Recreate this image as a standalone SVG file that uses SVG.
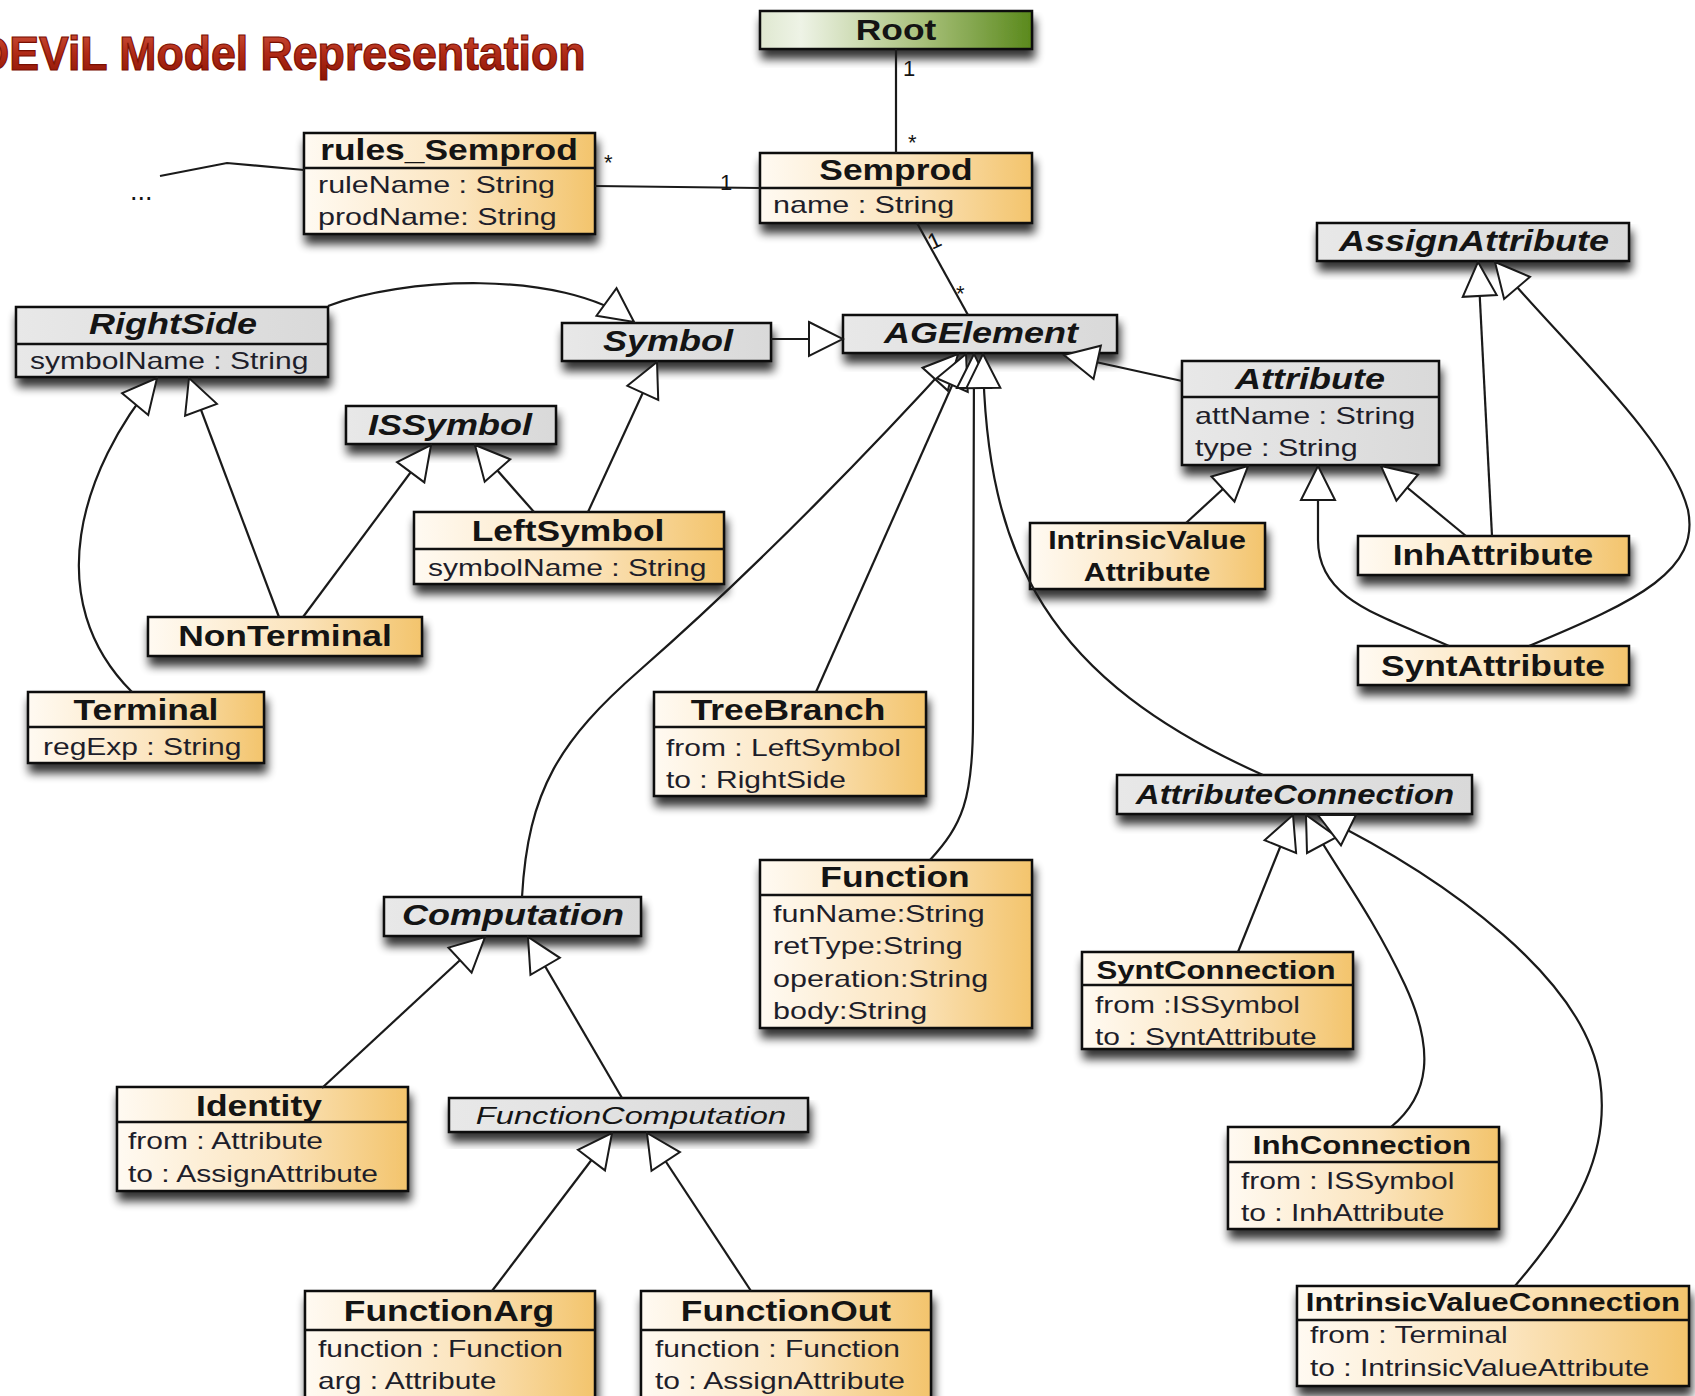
<svg xmlns="http://www.w3.org/2000/svg" width="1695" height="1396" viewBox="0 0 1695 1396">
<defs>
<style>
.box{stroke:#111;stroke-width:2.5;filter:url(#sh)}
.c{fill:url(#yel)}
.g{fill:url(#gry)}
.dv{stroke:#111;stroke-width:2.5}
text{font-family:"Liberation Sans",Arial,sans-serif;fill:#141414}
.n{font-weight:bold;font-size:30px;text-anchor:middle}
.ni{font-weight:bold;font-style:italic;font-size:30px;text-anchor:middle}
.ns{font-weight:bold;font-size:26px;text-anchor:middle}
.nis{font-weight:bold;font-style:italic;font-size:27px;text-anchor:middle}
.fc{font-style:italic;font-size:23px;text-anchor:middle}
.a{font-size:24px;fill:#1e1e2a}
.m{font-size:22px}
.t{font-weight:bold;font-size:48px;fill:url(#red);stroke:#7a0e00;stroke-width:1.2}
#connectors path,#connectors line,#connectors polyline{fill:none;stroke:#1a1a1a;stroke-width:2.2}
#connectors path{marker-end:url(#tri)}
</style>
<linearGradient id="yel" x1="0" y1="0" x2="1" y2="0">
<stop offset="0" stop-color="#fffaf2"/><stop offset="0.55" stop-color="#fbe4bd"/><stop offset="1" stop-color="#f3c46c"/>
</linearGradient>
<linearGradient id="gry" x1="0" y1="0" x2="1" y2="0">
<stop offset="0" stop-color="#e8e8e8"/><stop offset="1" stop-color="#d9d9d9"/>
</linearGradient>
<linearGradient id="grn" x1="0" y1="0" x2="1" y2="0">
<stop offset="0" stop-color="#dfe8d0"/><stop offset="0.15" stop-color="#eef3e6"/><stop offset="0.6" stop-color="#a8c07a"/><stop offset="1" stop-color="#5a891c"/>
</linearGradient>
<linearGradient id="red" x1="0" y1="0" x2="0" y2="1">
<stop offset="0" stop-color="#d0553e"/><stop offset="0.5" stop-color="#b02a16"/><stop offset="1" stop-color="#8c1406"/>
</linearGradient>
<filter id="sh" x="-10%" y="-20%" width="125%" height="170%">
<feGaussianBlur in="SourceAlpha" stdDeviation="5"/>
<feOffset dx="2" dy="9"/>
<feComponentTransfer><feFuncA type="linear" slope="0.8"/></feComponentTransfer>
<feMerge><feMergeNode/><feMergeNode in="SourceGraphic"/></feMerge>
</filter>
<marker id="tri" viewBox="-2 -2 38 38" refX="34" refY="17" markerWidth="38" markerHeight="38" markerUnits="userSpaceOnUse" orient="auto">
<path d="M0,0 L34,17 L0,34 Z" fill="#fff" stroke="#1a1a1a" stroke-width="2"/>
</marker>
</defs>
<rect width="1695" height="1396" fill="#fff"/>

<text class="t" transform="translate(-23 70) scale(0.93 1)">DEViL Model Representation</text>

<g id="Root"><rect class="box" x="760" y="11" width="272" height="38" fill="url(#grn)"/>
<text class="n" transform="translate(896 40) scale(1.18 1)">Root</text></g>

<g id="Semprod"><rect class="box c" x="760" y="153" width="272" height="70"/><line class="dv" x1="760" y1="188" x2="1032" y2="188"/>
<text class="n" transform="translate(896 180) scale(1.18 1)">Semprod</text>
<text class="a" transform="translate(773 213) scale(1.27 1)">name : String</text></g>

<g id="rules_Semprod"><rect class="box c" x="304" y="133" width="291" height="101"/><line class="dv" x1="304" y1="168" x2="595" y2="168"/>
<text class="n" transform="translate(449 160) scale(1.18 1)">rules_Semprod</text>
<text class="a" transform="translate(318 193) scale(1.27 1)">ruleName : String</text>
<text class="a" transform="translate(318 225) scale(1.27 1)">prodName: String</text></g>

<g id="AssignAttribute"><rect class="box g" x="1317" y="223" width="312" height="38"/>
<text class="ni" transform="translate(1474 251) scale(1.2 1)">AssignAttribute</text></g>

<g id="RightSide"><rect class="box g" x="16" y="307" width="312" height="70"/><line class="dv" x1="16" y1="344" x2="328" y2="344"/>
<text class="ni" transform="translate(173 334) scale(1.2 1)">RightSide</text>
<text class="a" transform="translate(30 369) scale(1.25 1)">symbolName : String</text></g>

<g id="Symbol"><rect class="box g" x="562" y="323" width="209" height="38"/>
<text class="ni" transform="translate(668 351) scale(1.2 1)">Symbol</text></g>

<g id="AGElement"><rect class="box g" x="843" y="315" width="274" height="38"/>
<text class="ni" transform="translate(981 343) scale(1.2 1)">AGElement</text></g>

<g id="Attribute"><rect class="box g" x="1182" y="361" width="257" height="104"/><line class="dv" x1="1182" y1="397" x2="1439" y2="397"/>
<text class="ni" transform="translate(1310 389) scale(1.2 1)">Attribute</text>
<text class="a" transform="translate(1195 424) scale(1.27 1)">attName : String</text>
<text class="a" transform="translate(1195 456) scale(1.27 1)">type : String</text></g>

<g id="ISSymbol"><rect class="box g" x="346" y="406" width="210" height="38"/>
<text class="ni" transform="translate(450 435) scale(1.2 1)">ISSymbol</text></g>

<g id="LeftSymbol"><rect class="box c" x="414" y="512" width="310" height="72"/><line class="dv" x1="414" y1="549" x2="724" y2="549"/>
<text class="n" transform="translate(568 541) scale(1.18 1)">LeftSymbol</text>
<text class="a" transform="translate(428 576) scale(1.25 1)">symbolName : String</text></g>

<g id="IntrinsicValueAttribute"><rect class="box c" x="1030" y="523" width="235" height="66"/>
<text class="ns" transform="translate(1147 549) scale(1.17 1)">IntrinsicValue</text>
<text class="ns" transform="translate(1147 581) scale(1.17 1)">Attribute</text></g>

<g id="InhAttribute"><rect class="box c" x="1358" y="536" width="271" height="39"/>
<text class="n" transform="translate(1493 565) scale(1.18 1)">InhAttribute</text></g>

<g id="NonTerminal"><rect class="box c" x="148" y="617" width="274" height="39"/>
<text class="n" transform="translate(285 646) scale(1.18 1)">NonTerminal</text></g>

<g id="SyntAttribute"><rect class="box c" x="1358" y="646" width="271" height="39"/>
<text class="n" transform="translate(1493 676) scale(1.18 1)">SyntAttribute</text></g>

<g id="Terminal"><rect class="box c" x="28" y="692" width="236" height="71"/><line class="dv" x1="28" y1="727" x2="264" y2="727"/>
<text class="n" transform="translate(146 720) scale(1.18 1)">Terminal</text>
<text class="a" transform="translate(43 755) scale(1.25 1)">regExp : String</text></g>

<g id="TreeBranch"><rect class="box c" x="654" y="692" width="272" height="104"/><line class="dv" x1="654" y1="727" x2="926" y2="727"/>
<text class="n" transform="translate(788 720) scale(1.18 1)">TreeBranch</text>
<text class="a" transform="translate(666 756) scale(1.25 1)">from : LeftSymbol</text>
<text class="a" transform="translate(666 788) scale(1.25 1)">to : RightSide</text></g>

<g id="AttributeConnection"><rect class="box g" x="1117" y="775" width="355" height="39"/>
<text class="nis" transform="translate(1295 804) scale(1.22 1)">AttributeConnection</text></g>

<g id="Function"><rect class="box c" x="760" y="860" width="272" height="168"/><line class="dv" x1="760" y1="895" x2="1032" y2="895"/>
<text class="n" transform="translate(895 887) scale(1.18 1)">Function</text>
<text class="a" transform="translate(773 922) scale(1.27 1)">funName:String</text>
<text class="a" transform="translate(773 954) scale(1.27 1)">retType:String</text>
<text class="a" transform="translate(773 987) scale(1.27 1)">operation:String</text>
<text class="a" transform="translate(773 1019) scale(1.27 1)">body:String</text></g>

<g id="Computation"><rect class="box g" x="384" y="897" width="257" height="39"/>
<text class="ni" transform="translate(513 925) scale(1.2 1)">Computation</text></g>

<g id="SyntConnection"><rect class="box c" x="1082" y="952" width="271" height="97"/><line class="dv" x1="1082" y1="985" x2="1353" y2="985"/>
<text class="ns" transform="translate(1216 979) scale(1.2 1)">SyntConnection</text>
<text class="a" transform="translate(1095 1013) scale(1.25 1)">from :ISSymbol</text>
<text class="a" transform="translate(1095 1045) scale(1.25 1)">to : SyntAttribute</text></g>

<g id="Identity"><rect class="box c" x="117" y="1087" width="291" height="104"/><line class="dv" x1="117" y1="1122" x2="408" y2="1122"/>
<text class="n" transform="translate(259 1116) scale(1.18 1)">Identity</text>
<text class="a" transform="translate(128 1149) scale(1.25 1)">from : Attribute</text>
<text class="a" transform="translate(128 1182) scale(1.25 1)">to : AssignAttribute</text></g>

<g id="FunctionComputation"><rect class="box g" x="449" y="1098" width="359" height="34"/>
<text class="fc" transform="translate(631 1124) scale(1.42 1)">FunctionComputation</text></g>

<g id="InhConnection"><rect class="box c" x="1228" y="1127" width="271" height="102"/><line class="dv" x1="1228" y1="1162" x2="1499" y2="1162"/>
<text class="ns" transform="translate(1362 1154) scale(1.2 1)">InhConnection</text>
<text class="a" transform="translate(1241 1189) scale(1.25 1)">from : ISSymbol</text>
<text class="a" transform="translate(1241 1221) scale(1.25 1)">to : InhAttribute</text></g>

<g id="FunctionArg"><rect class="box c" x="305" y="1291" width="290" height="120"/><line class="dv" x1="305" y1="1330" x2="595" y2="1330"/>
<text class="n" transform="translate(449 1321) scale(1.18 1)">FunctionArg</text>
<text class="a" transform="translate(318 1357) scale(1.25 1)">function : Function</text>
<text class="a" transform="translate(318 1389) scale(1.25 1)">arg : Attribute</text></g>

<g id="FunctionOut"><rect class="box c" x="641" y="1291" width="290" height="120"/><line class="dv" x1="641" y1="1330" x2="931" y2="1330"/>
<text class="n" transform="translate(786 1321) scale(1.18 1)">FunctionOut</text>
<text class="a" transform="translate(655 1357) scale(1.25 1)">function : Function</text>
<text class="a" transform="translate(655 1389) scale(1.25 1)">to : AssignAttribute</text></g>

<g id="IntrinsicValueConnection"><rect class="box c" x="1297" y="1286" width="392" height="100"/><line class="dv" x1="1297" y1="1320" x2="1689" y2="1320"/>
<text class="ns" transform="translate(1493 1311) scale(1.2 1)">IntrinsicValueConnection</text>
<text class="a" transform="translate(1310 1343) scale(1.25 1)">from : Terminal</text>
<text class="a" transform="translate(1310 1376) scale(1.25 1)">to : IntrinsicValueAttribute</text></g>

<g id="connectors">
<polyline points="304,170 227,163 160,176"/>
<line x1="595" y1="186" x2="760" y2="188"/>
<line x1="896" y1="49" x2="896" y2="153"/>
<line x1="917" y1="223" x2="968" y2="315"/>
<path d="M328,306 C400,278 560,268 634,322"/>
<path d="M771,339 L843,339"/>
<path d="M588,512 L657,362"/>
<path d="M534,512 L475,445"/>
<path d="M303,617 L431,445"/>
<path d="M279,617 L189,378"/>
<path d="M132,692 C40,600 80,470 157,378"/>
<path d="M522,897 C528,790 560,740 640,670 C760,565 880,440 958,354"/>
<path d="M816,692 L966,354"/>
<path d="M930,860 C962,825 973,800 973,720 L974,354"/>
<path d="M1263,775 C1050,680 985,560 983,354"/>
<path d="M1182,381 L1064,355"/>
<path d="M1186,523 L1248,466"/>
<path d="M1466,536 L1381,466"/>
<path d="M1449,646 C1380,615 1318,600 1318,540 L1318,466"/>
<path d="M1492,536 L1478,262"/>
<path d="M1529,646 C1640,600 1700,570 1688,510 C1670,440 1570,350 1495,262"/>
<path d="M322,1088 L485,937"/>
<path d="M622,1098 L528,937"/>
<path d="M492,1291 L612,1133"/>
<path d="M751,1291 L647,1133"/>
<path d="M1238,952 L1293,815"/>
<path d="M1391,1127 C1430,1095 1435,1050 1405,985 C1370,910 1330,860 1306,815"/>
<path d="M1515,1286 C1580,1210 1610,1150 1600,1080 C1585,980 1450,880 1318,815"/>
<text class="m" x="604" y="170">*</text>
<text class="m" x="720" y="190">1</text>
<text class="m" x="903" y="76">1</text>
<text class="m" x="908" y="150">*</text>
<text class="m" transform="translate(932 250) rotate(-25)">1</text>
<text class="m" x="956" y="301">*</text>
<text class="m" x="130" y="200" style="font-size:27px">...</text>
</g>
</svg>
